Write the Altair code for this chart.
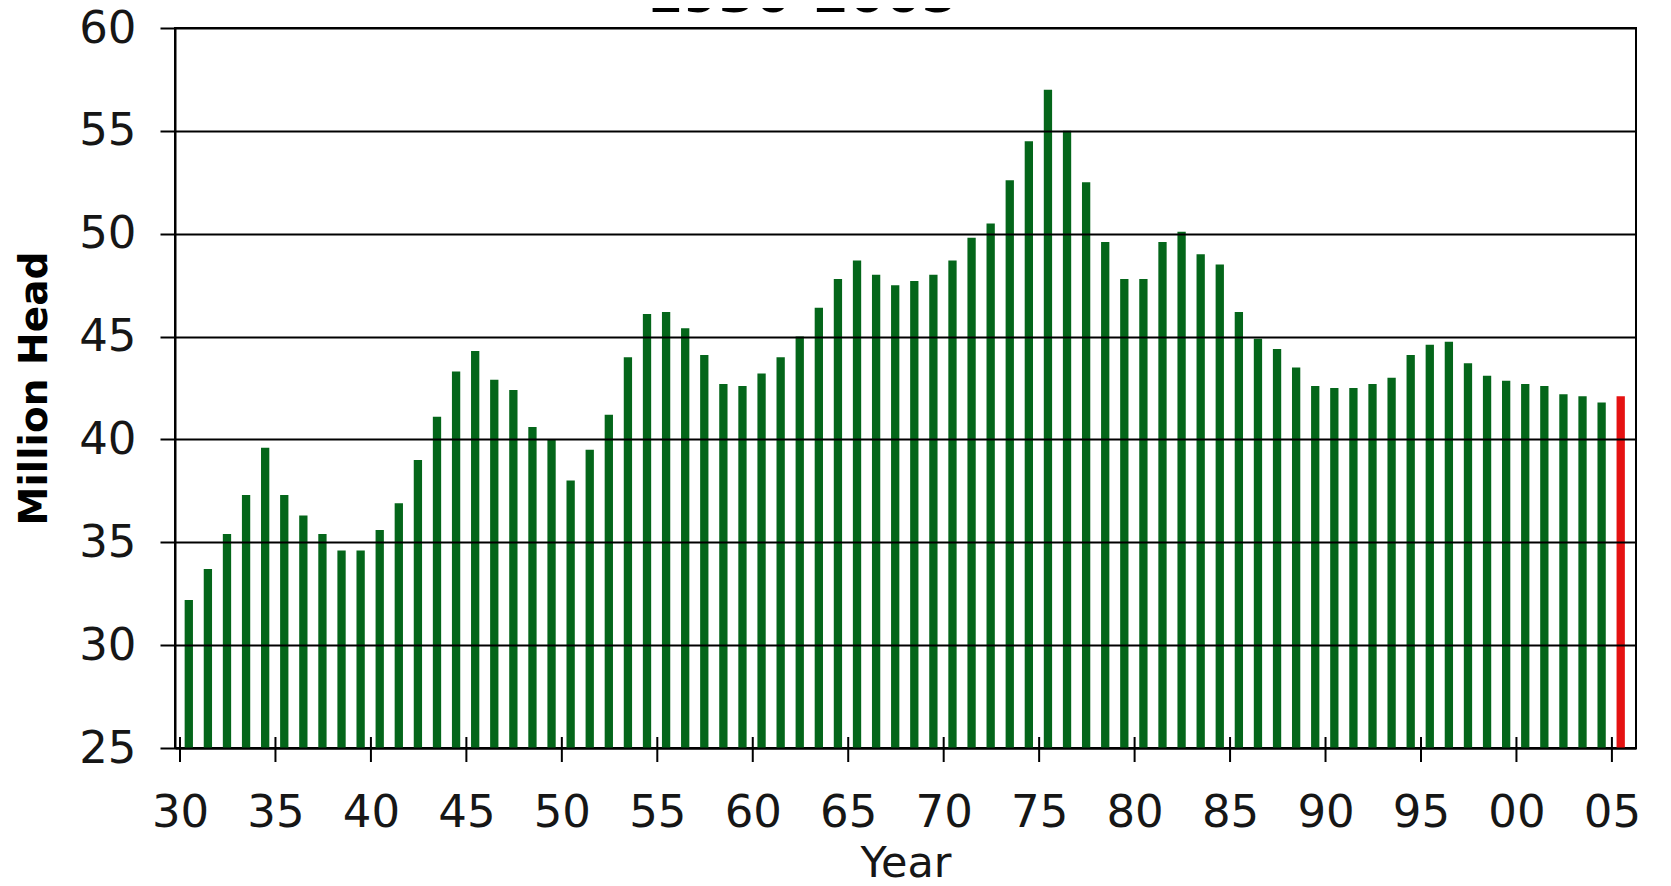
import altair as alt
import pandas as pd

# ---- data ----
years = list(range(1930, 2006))
cows = [
    32.2, 33.7, 35.4, 37.3, 39.6, 37.3, 36.3, 35.4, 34.6, 34.6,   # 1930-39
    35.6, 36.9, 39.0, 41.1, 43.3, 44.3, 42.9, 42.4, 40.6, 40.0,   # 1940-49
    38.0, 39.5, 41.2, 44.0, 46.1, 46.2, 45.4, 44.1, 42.7, 42.6,   # 1950-59
    43.2, 44.0, 45.0, 46.4, 47.8, 48.7, 48.0, 47.5, 47.7, 48.0,   # 1960-69
    48.7, 49.8, 50.5, 52.6, 54.5, 57.0, 55.0, 52.5, 49.6, 47.8,   # 1970-79
    47.8, 49.6, 50.1, 49.0, 48.5, 46.2, 44.9, 44.4, 43.5, 42.6,   # 1980-89
    42.5, 42.5, 42.7, 43.0, 44.1, 44.6, 44.75, 43.7, 43.1, 42.85, # 1990-99
    42.7, 42.6, 42.2, 42.1, 41.8, 42.1,                           # 2000-05
]
highlight_year = 2005
tick_years = [1930, 1935, 1940, 1945, 1950, 1955, 1960, 1965,
              1970, 1975, 1980, 1985, 1990, 1995, 2000, 2005]
tick_labels = ["30", "35", "40", "45", "50", "55", "60", "65",
               "70", "75", "80", "85", "90", "95", "00", "05"]
y_ticks = [25, 30, 35, 40, 45, 50, 55, 60]
title_text = "1930-2005"
x_title = "Year"
y_title = "Million Head"

df = pd.DataFrame({"year": years, "head": cows})
ticks_df = pd.DataFrame({"year": tick_years})
title_df = pd.DataFrame({"t": [title_text]})

W, H = 1461, 720
GREEN = "#04661a"
RED = "#e51212"
FONT = "DejaVu Sans"

label_expr = (
    "[" + ",".join(f"'{l}'" for l in tick_labels) + "]"
    + "[indexof([" + ",".join(str(y) for y in tick_years) + "], datum.value)]"
)

x_scale = alt.Scale(domain=[1930, 2006], nice=False, zero=False)
y_scale = alt.Scale(domain=[25, 60], nice=False, zero=False)

bars = alt.Chart(df).mark_bar(size=8.3, xOffset=8.8).encode(
    x=alt.X(
        "year:Q",
        scale=x_scale,
        axis=alt.Axis(
            values=tick_years,
            labelExpr=label_expr,
            grid=False,
            ticks=False,
            domain=True,
            domainColor="black",
            domainWidth=2,
            labelFont=FONT,
            labelFontSize=45,
            labelColor="#161616",
            labelPadding=42,
            labelFlush=False,
            labelOverlap=False,
            labelBound=False,
            title=x_title,
            titleFont=FONT,
            titleFontSize=43,
            titleFontWeight="normal",
            titleColor="#161616",
            titleX=W / 2,
            titleY=128,
            titleAlign="center",
            titleBaseline="alphabetic",
        ),
    ),
    y=alt.Y(
        "head:Q",
        scale=y_scale,
        axis=alt.Axis(
            values=y_ticks,
            grid=True,
            gridColor="black",
            gridWidth=2,
            gridOpacity=1,
            ticks=True,
            tickColor="black",
            tickSize=15,
            tickWidth=2,
            domainColor="black",
            domainWidth=2,
            labelFont=FONT,
            labelFontSize=45,
            labelColor="#161616",
            labelPadding=24,
            labelFlush=False,
            labelOverlap=False,
            title=y_title,
            titleFont=FONT,
            titleFontSize=39,
            titleFontWeight="bold",
            titleColor="black",
            titleAngle=270,
            titleX=-141,
            titleY=H / 2,
            titleAlign="center",
            titleBaseline="middle",
            zindex=1,
        ),
    ),
    y2=alt.datum(25),
    color=alt.condition(
        alt.datum.year == highlight_year, alt.value(RED), alt.value(GREEN)
    ),
)

tick_rules = alt.Chart(ticks_df).mark_rule(color="black", strokeWidth=2).encode(
    x=alt.X("year:Q", scale=x_scale),
    y=alt.value(H - 11),
    y2=alt.value(H + 14),
)

title_mark = alt.Chart(title_df).mark_text(
    font=FONT, fontSize=52, fontWeight="bold", color="black",
    align="center", baseline="alphabetic",
).encode(
    text="t:N",
    x=alt.value(627),
    y=alt.value(-16),
)

chart = (
    alt.layer(bars, tick_rules, title_mark)
    .properties(
        width=W,
        height=H,
        autosize=alt.AutoSizeParams(type="none"),
        padding={"left": 167, "top": 20, "right": 25, "bottom": 130},
        background="white",
    )
    .configure_view(stroke="black", strokeWidth=2)
)

chart.save("out.html", embed_options={"renderer": "svg", "actions": False})
